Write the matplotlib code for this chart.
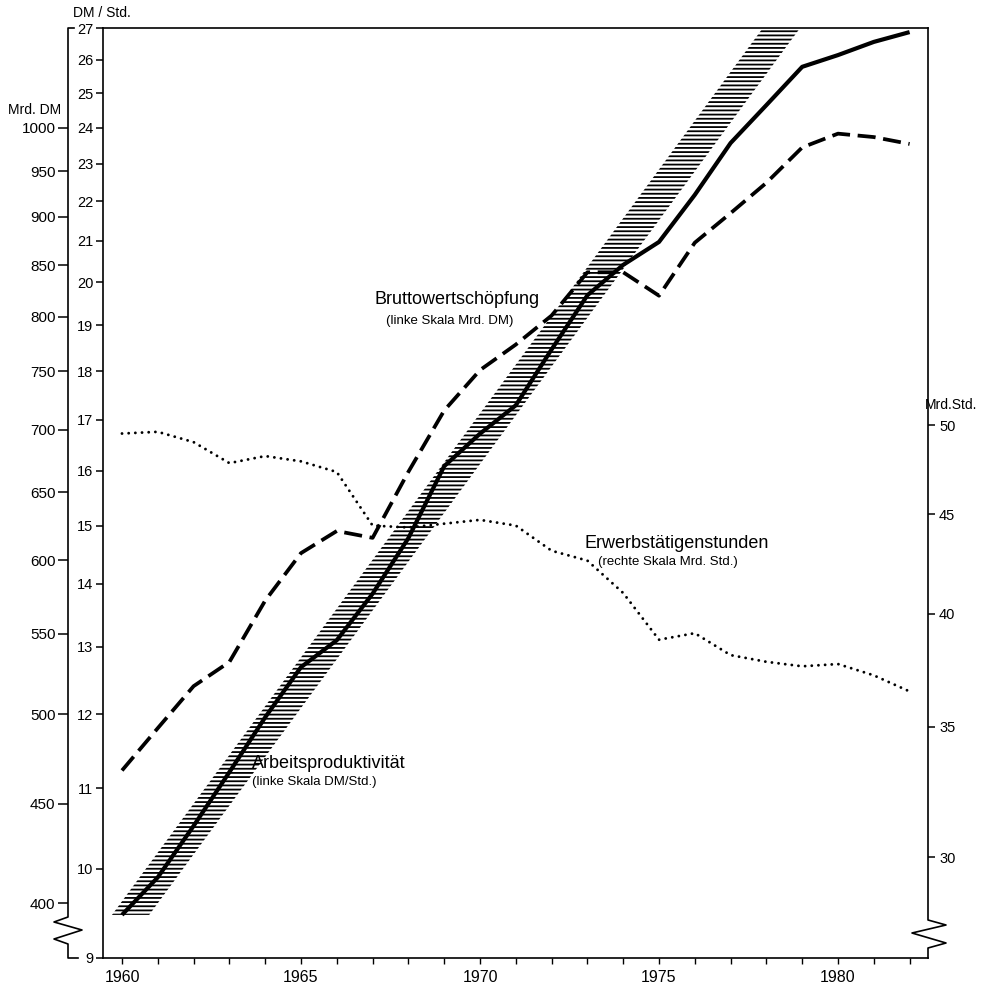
import numpy as np
import matplotlib
matplotlib.use("Agg")
import matplotlib.pyplot as plt
from matplotlib.ticker import FixedLocator, NullLocator, FuncFormatter, NullFormatter
from matplotlib.lines import Line2D

plt.rcParams['font.family'] = ['Liberation Sans', 'DejaVu Sans']
plt.rcParams['lines.scale_dashes'] = False
plt.rcParams['hatch.linewidth'] = 1.3

# ---------------- data ----------------
years = list(range(1960, 1983))
productivity = [9.47, 9.90, 10.52, 11.21, 11.96, 12.69, 13.10, 13.84, 14.78, 16.09,
                16.72, 17.29, 18.47, 19.69, 20.41, 20.97, 22.17, 23.57, 24.65, 25.79,
                26.15, 26.56, 26.87]                      # DM/Std.
value_added = [468, 492, 517, 532, 572, 605, 621, 616, 666, 716,
               751, 774, 801, 843, 843, 820, 873, 904, 937, 977,
               993, 989, 981]                              # Mrd. DM
hours = [49.5, 49.6, 49.0, 47.8, 48.2, 47.9, 47.3, 44.4, 44.3, 44.5,
         44.7, 44.4, 43.1, 42.6, 41.0, 38.8, 39.1, 38.1, 37.8, 37.6,
         37.7, 37.2, 36.5]                                 # Mrd. Std.
trend_years = [1960.24, 1978.42]     # centre of the shaded trend band
trend_values = [9.47, 27.0]          # DM/Std.
band_half_width = 0.52               # years

dmstd_ticks = list(range(9, 28))
mrddm_ticks = list(range(400, 1001, 50))
mrdstd_ticks = [30, 35, 40, 45, 50]
year_labels = [1960, 1965, 1970, 1975, 1980]
year_minor = list(range(1960, 1983))

DM_PER_DMSTD = 1000 / 24.0     # Mrd. DM scale relative to DM/Std. scale
STD_PER_DMSTD = 2.96           # Mrd. Std. scale relative to DM/Std. scale
YMIN, YMAX = 9, 27

# ---------------- layout ----------------
W, H = 986, 984
fig = plt.figure(figsize=(W / 100, H / 100), dpi=100)
L, R, T, B = 103, 928, 28, 958
ax = fig.add_axes([L / W, 1 - B / H, (R - L) / W, (B - T) / H])

def fx(px):
    return px / W

def fy(py):
    return 1 - py / H

# main axis (DM/Std.)
ax.set_yscale('log')
ax.set_ylim(YMIN, YMAX)
ax.set_xlim(1960 - 19 / 35.8, 1960 + (R - 122) / 35.8)
ax.yaxis.set_major_locator(FixedLocator(dmstd_ticks))
ax.yaxis.set_minor_locator(NullLocator())
ax.yaxis.set_major_formatter(FuncFormatter(lambda v, p: f"{v:.0f}"))
ax.yaxis.set_minor_formatter(NullFormatter())
ax.xaxis.set_major_locator(FixedLocator(year_labels))
ax.xaxis.set_minor_locator(FixedLocator(year_minor))
ax.xaxis.set_major_formatter(FuncFormatter(lambda v, p: f"{v:.0f}"))
ax.tick_params(axis='y', direction='out', length=5, width=1.1, pad=2, labelsize=10.5)
ax.tick_params(axis='x', which='both', direction='out', length=4, width=1.0, pad=5, labelsize=11.5)
ax.spines['right'].set_visible(False)
for s in ['left', 'top', 'bottom']:
    ax.spines[s].set_linewidth(1.2)

# shaded trend band
left_edge = [t - band_half_width for t in trend_years]
right_edge = [t + band_half_width for t in trend_years]
ax.fill_betweenx(trend_values, left_edge, right_edge, hatch='----',
                 facecolor='none', edgecolor='black', linewidth=0, zorder=1)

# productivity (solid)
ax.plot(years, productivity, color='black', lw=3.0, solid_joinstyle='round',
        solid_capstyle='butt', zorder=3)

# Mrd. DM axis (value added)
axdm = ax.twinx()
axdm.set_yscale('log')
axdm.set_ylim(YMIN * DM_PER_DMSTD, YMAX * DM_PER_DMSTD)
axdm.yaxis.tick_left()
axdm.spines['left'].set_position(('axes', (68 - L) / (R - L)))
for s in axdm.spines.values():
    s.set_visible(False)
axdm.yaxis.set_major_locator(FixedLocator(mrddm_ticks))
axdm.yaxis.set_minor_locator(NullLocator())
axdm.yaxis.set_major_formatter(FuncFormatter(lambda v, p: f"{v:.0f}"))
axdm.yaxis.set_minor_formatter(NullFormatter())
axdm.tick_params(axis='y', direction='out', length=7, width=1.1, pad=2, labelsize=11)
axdm.plot(years, value_added, color='black', lw=2.7, dashes=(13, 5.5),
          dash_capstyle='butt', dash_joinstyle='round', zorder=3)

# Mrd. Std. axis (hours)
axh = ax.twinx()
axh.set_yscale('log')
axh.set_ylim(YMIN * STD_PER_DMSTD, YMAX * STD_PER_DMSTD)
for s in axh.spines.values():
    s.set_visible(False)
axh.yaxis.tick_right()
axh.yaxis.set_major_locator(FixedLocator(mrdstd_ticks))
axh.yaxis.set_minor_locator(NullLocator())
axh.yaxis.set_major_formatter(FuncFormatter(lambda v, p: f"{v:.0f}"))
axh.yaxis.set_minor_formatter(NullFormatter())
axh.tick_params(axis='y', direction='out', length=5, width=1.1, pad=3, labelsize=10.5)
axh.plot(years, hours, color='black', lw=2.1, linestyle=(0, (0.01, 4.8)),
         dash_capstyle='round', zorder=3)

# hand-drawn style spines with axis breaks
right_spine = [(928, 28), (928, 920), (946, 925), (912, 933), (946, 943), (928, 948), (928, 958)]
left_spine = [(74, 28), (68, 28), (68, 917), (54, 922), (82, 930), (54, 939), (68, 944), (68, 958), (78, 958)]
for pts in (right_spine, left_spine):
    fig.add_artist(Line2D([fx(p[0]) for p in pts], [fy(p[1]) for p in pts],
                          transform=fig.transFigure, color='black', lw=1.2))

# axis unit labels
fig.text(fx(102), fy(13), 'DM / Std.', ha='center', va='center', fontsize=10)
fig.text(fx(35), fy(110), 'Mrd. DM', ha='center', va='center', fontsize=10)
fig.text(fx(925), fy(405), 'Mrd.Std.', ha='left', va='center', fontsize=10)

# series annotations
fig.text(fx(375), fy(300), 'Bruttowertschöpfung', ha='left', va='center', fontsize=13)
fig.text(fx(386), fy(321), '(linke Skala Mrd. DM)', ha='left', va='center', fontsize=9.5)
fig.text(fx(585), fy(543), 'Erwerbstätigenstunden', ha='left', va='center', fontsize=13)
fig.text(fx(598), fy(562), '(rechte Skala Mrd. Std.)', ha='left', va='center', fontsize=9.5)
fig.text(fx(252), fy(763), 'Arbeitsproduktivität', ha='left', va='center', fontsize=13)
fig.text(fx(252), fy(782), '(linke Skala DM/Std.)', ha='left', va='center', fontsize=9.5)

fig.savefig('out.png', dpi=100)
